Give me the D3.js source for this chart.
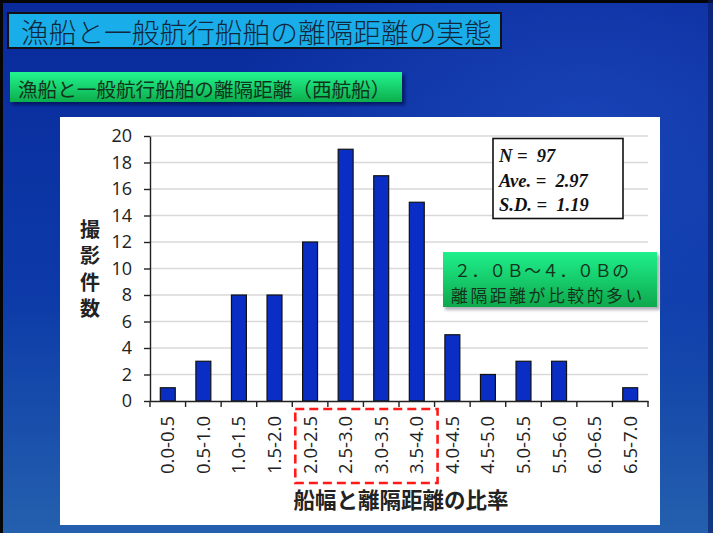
<!DOCTYPE html>
<html><head><meta charset="utf-8">
<script src="https://cdn.jsdelivr.net/npm/d3@7"></script>
<style>html,body{margin:0;padding:0;background:#000;overflow:hidden}svg{display:block}</style>
</head><body>
<script>
// Histogram of ratio between ship beam and separation distance (westbound vessels)
const categories = ["0.0-0.5","0.5-1.0","1.0-1.5","1.5-2.0","2.0-2.5","2.5-3.0","3.0-3.5",
                    "3.5-4.0","4.0-4.5","4.5-5.0","5.0-5.5","5.5-6.0","6.0-6.5","6.5-7.0"];
const counts = [1, 3, 8, 8, 12, 19, 17, 15, 5, 2, 3, 3, 0, 1];
const yTicks = [0, 2, 4, 6, 8, 10, 12, 14, 16, 18, 20];
const highlighted = ["2.0-2.5", "2.5-3.0", "3.0-3.5", "3.5-4.0"];
const statsLines = ["N =  97", "Ave. =  2.97", "S.D. =  1.19"];
const titleText = "漁船と一般航行船舶の離隔距離の実態";
const subtitleText = "漁船と一般航行船舶の離隔距離（西航船）";
const calloutLines = ["２．０Ｂ～４．０Ｂの", "離隔距離が比較的多い"];
const xTitle = "船幅と離隔距離の比率";
const yTitle = ["撮", "影", "件", "数"];

const W = 713, H = 533;
const svg = d3.select("body").append("svg").attr("width", W).attr("height", H);
const defs = svg.append("defs");

// slide background
const bg = defs.append("linearGradient").attr("id", "bg").attr("x1", 0).attr("y1", 0).attr("x2", 0).attr("y2", 1);
bg.append("stop").attr("offset", "0%").attr("stop-color", "#0a2a9c");
bg.append("stop").attr("offset", "55%").attr("stop-color", "#0c3aa8");
bg.append("stop").attr("offset", "100%").attr("stop-color", "#2460ae");
svg.append("rect").attr("width", W).attr("height", H).attr("fill", "url(#bg)");
const glow = defs.append("radialGradient").attr("id", "glow").attr("cx", 0.82).attr("cy", 0.25).attr("r", 0.5);
glow.append("stop").attr("offset", "0%").attr("stop-color", "#2a5cd0").attr("stop-opacity", 0.45);
glow.append("stop").attr("offset", "100%").attr("stop-color", "#2a5cd0").attr("stop-opacity", 0);
svg.append("rect").attr("width", W).attr("height", H).attr("fill", "url(#glow)");
// dark frame edges
svg.append("rect").attr("x", 0).attr("y", 0).attr("width", W).attr("height", 3).attr("fill", "#050505");
svg.append("rect").attr("x", 0).attr("y", 0).attr("width", 3).attr("height", H).attr("fill", "#050505");
svg.append("rect").attr("x", W - 5).attr("y", 0).attr("width", 5).attr("height", H).attr("fill", "#0a1a60").attr("opacity", 0.6);

// title box
svg.append("rect").attr("x", 8).attr("y", 13).attr("width", 493).attr("height", 35)
  .attr("fill", "#19aeea").attr("stroke", "#111").attr("stroke-width", 2);
svg.append("text").attr("x", 21).attr("y", 31).attr("dominant-baseline", "central")
  .attr("font-family", "'Noto Sans CJK JP'").attr("font-size", 27.7).attr("font-weight", 300)
  .attr("fill", "#12263c").text(titleText);

// subtitle box with shadow
const sub = defs.append("linearGradient").attr("id", "sub").attr("x1", 0).attr("y1", 0).attr("x2", 0).attr("y2", 1);
sub.append("stop").attr("offset", "0%").attr("stop-color", "#22f590");
sub.append("stop").attr("offset", "100%").attr("stop-color", "#0cae4c");
const shadow = defs.append("filter").attr("id", "shadow").attr("x", "-10%").attr("y", "-20%").attr("width", "130%").attr("height", "160%");
shadow.append("feGaussianBlur").attr("stdDeviation", 1.5);
svg.append("rect").attr("x", 12).attr("y", 75).attr("width", 393).attr("height", 30)
  .attr("fill", "#021050").attr("opacity", 0.7).attr("filter", "url(#shadow)");
svg.append("rect").attr("x", 10).attr("y", 72).attr("width", 392).attr("height", 30).attr("fill", "url(#sub)");
svg.append("text").attr("x", 18).attr("y", 88).attr("dominant-baseline", "central")
  .attr("font-family", "'Noto Sans CJK JP'").attr("font-size", 19.6).attr("fill", "#12331c")
  .text(subtitleText);

// white chart panel
svg.append("rect").attr("x", 60).attr("y", 117).attr("width", 600).attr("height", 408).attr("fill", "#ffffff");

// scales
const plot = {left: 150, right: 648, top: 136, bottom: 401};
const x = d3.scaleBand().domain(categories).range([plot.left, plot.right]).paddingInner(0.58).paddingOuter(0.29);
const y = d3.scaleLinear().domain([0, 20]).range([plot.bottom, plot.top]);

// gridlines
svg.append("g").selectAll("line").data(yTicks.filter(d => d > 0)).join("line")
  .attr("x1", plot.left).attr("x2", plot.right)
  .attr("y1", d => y(d)).attr("y2", d => y(d))
  .attr("stroke", "#d9d9d9").attr("stroke-width", 1.3);

// bars
svg.append("g").selectAll("rect").data(categories.map((c, i) => ({c, v: counts[i]})).filter(d => d.v > 0)).join("rect")
  .attr("x", d => x(d.c)).attr("width", x.bandwidth())
  .attr("y", d => y(d.v)).attr("height", d => y(0) - y(d.v))
  .attr("fill", "#0a2ec4").attr("stroke", "#111").attr("stroke-width", 1.2);

// y axis
const yAxis = svg.append("g").attr("transform", `translate(${plot.left},0)`)
  .call(d3.axisLeft(y).tickValues(yTicks).tickSize(6).tickPadding(12).tickSizeOuter(0));
yAxis.select(".domain").attr("stroke", "#222").attr("stroke-width", 1.4);
yAxis.selectAll(".tick line").attr("stroke", "#222").attr("stroke-width", 1.4);
yAxis.selectAll("text").attr("font-family", "'Open Sans'").attr("font-size", 18).attr("fill", "#222");

// x axis: ticks at category boundaries
const xAxis = svg.append("g").attr("transform", `translate(0,${plot.bottom})`)
  .call(d3.axisBottom(x).tickSize(0).tickPadding(0).tickSizeOuter(0));
xAxis.select(".domain").attr("stroke", "#222").attr("stroke-width", 1.4);
xAxis.selectAll(".tick text")
  .attr("transform", "translate(0,15) rotate(-90)")
  .attr("text-anchor", "end").attr("dy", "0.35em")
  .attr("x", 0).attr("y", 0)
  .attr("font-family", "'Open Sans'").attr("font-size", 18.5).attr("fill", "#222");
const boundaries = categories.map(c => x(c) - (x.step() - x.bandwidth()) / 2).concat([plot.right]);
svg.append("g").selectAll("line").data(boundaries).join("line")
  .attr("x1", d => d).attr("x2", d => d).attr("y1", plot.bottom).attr("y2", plot.bottom + 6)
  .attr("stroke", "#222").attr("stroke-width", 1.4);

// highlighted range outline
const hx0 = x(highlighted[0]) - (x.step() - x.bandwidth()) / 2 + 3;
const hx1 = x(highlighted[highlighted.length - 1]) + x.bandwidth() + (x.step() - x.bandwidth()) / 2 + 3;
svg.append("rect").attr("x", hx0).attr("y", 409).attr("width", hx1 - hx0).attr("height", 74)
  .attr("fill", "none").attr("stroke", "#ff1a1a").attr("stroke-width", 2.6).attr("stroke-dasharray", "9,5");

// axis titles
svg.append("text").attr("x", (plot.left + plot.right) / 2 + 2).attr("y", 498).attr("text-anchor", "middle")
  .attr("dominant-baseline", "central").attr("font-family", "'Noto Sans CJK JP'").attr("font-size", 21.5)
  .attr("font-weight", 700).attr("fill", "#222").text(xTitle);
svg.append("g").selectAll("text").data(yTitle).join("text")
  .attr("x", 90).attr("y", (d, i) => 228 + i * 26.5).attr("text-anchor", "middle")
  .attr("dominant-baseline", "central").attr("font-family", "'Noto Sans CJK JP'").attr("font-size", 20)
  .attr("font-weight", 700).attr("fill", "#222").text(d => d);

// statistics box
svg.append("rect").attr("x", 493).attr("y", 138.5).attr("width", 130).attr("height", 80)
  .attr("fill", "#fff").attr("stroke", "#111").attr("stroke-width", 1.6);
svg.append("g").selectAll("text").data(statsLines).join("text")
  .attr("x", 499).attr("y", (d, i) => 162 + i * 24.5)
  .attr("font-family", "'Liberation Serif'").attr("font-style", "italic").attr("font-weight", 700)
  .attr("font-size", 18.5).attr("fill", "#111").style("white-space", "pre").text(d => d);

// callout
const call = defs.append("linearGradient").attr("id", "call").attr("x1", 0).attr("y1", 0).attr("x2", 0).attr("y2", 1);
call.append("stop").attr("offset", "0%").attr("stop-color", "#1ff08c");
call.append("stop").attr("offset", "100%").attr("stop-color", "#0ea84c");
svg.append("rect").attr("x", 445).attr("y", 255).attr("width", 215).attr("height", 55)
  .attr("fill", "#556").attr("opacity", 0.45).attr("filter", "url(#shadow)");
svg.append("rect").attr("x", 443).attr("y", 252).attr("width", 214).attr("height", 55).attr("fill", "url(#call)");
svg.append("g").selectAll("text").data(calloutLines).join("text")
  .attr("x", (d, i) => i === 0 ? 454 : 451).attr("y", (d, i) => 270 + i * 24.5)
  .attr("dominant-baseline", "central").attr("font-family", "'Noto Sans CJK JP'")
  .attr("font-size", 16.8).attr("letter-spacing", (d, i) => i === 0 ? 0.8 : 2.6)
  .attr("fill", "#13331c").text(d => d);
</script>
</body></html>
